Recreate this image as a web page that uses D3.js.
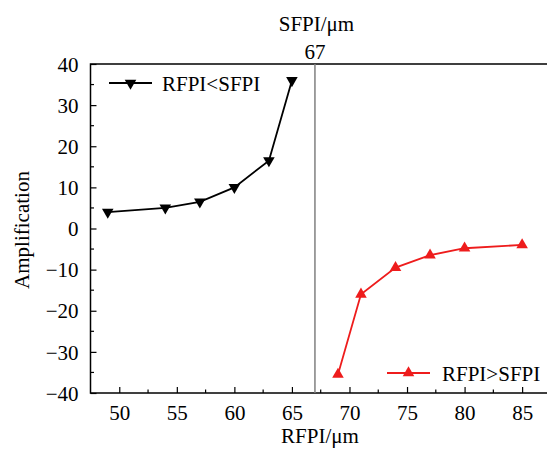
<!DOCTYPE html>
<html><head><meta charset="utf-8">
<script src="https://cdn.jsdelivr.net/npm/d3@7"></script>
<style>body{margin:0;background:#fff}svg{display:block}</style>
</head><body><svg id="c" width="547" height="455"></svg>
<script>
const lowX = [49, 54, 57, 60, 63, 65];
const lowY = [4, 5, 6.5, 10, 16.5, 36];
const highX = [69, 71, 74, 77, 80, 85];
const highY = [-35.5, -16, -9.5, -6.5, -4.8, -4];
const xTicks = [50, 55, 60, 65, 70, 75, 80, 85];
const yTicks = [-40, -30, -20, -10, 0, 10, 20, 30, 40];
const sfpi = 67;
const labels = {x: "RFPI/μm", y: "Amplification", top: "SFPI/μm", low: "RFPI<SFPI", high: "RFPI>SFPI"};

const FF = "Liberation Serif";
const FS = 21;
const svg = d3.select("#c");
const L = 90.5, T = 64, B = 393;
const x = d3.scaleLinear().domain([47.5, 87.5]).range([L, L + 40 * 11.51]);
const y = d3.scaleLinear().domain([-40, 40]).range([B, T]);
const R = x(87.5);

svg.append("rect").attr("x", L).attr("y", T).attr("width", R - L).attr("height", B - T)
  .attr("fill", "none").attr("stroke", "#000").attr("stroke-width", 1.5);

const gx = svg.append("g").attr("transform", `translate(0,${B})`)
  .call(d3.axisBottom(x).tickValues(xTicks).tickSize(-6).tickPadding(0).tickFormat(d3.format("d")));
const gy = svg.append("g").attr("transform", `translate(${L},0)`)
  .call(d3.axisLeft(y).tickValues(yTicks).tickSize(-6).tickPadding(12).tickFormat(d => d < 0 ? "\u2212" + Math.abs(d) : d));
[gx, gy].forEach(g => {
  g.attr("font-family", FF).attr("font-size", FS);
  g.select(".domain").remove();
  g.selectAll("line").attr("stroke", "#000").attr("stroke-width", 1.2);
  g.selectAll("text").attr("fill", "#000").attr("font-family", FF).attr("font-size", FS);
});
gx.selectAll("text").attr("y", 27).attr("dy", 0);
gy.selectAll("text").attr("dy", "0.34em");

const xMinor = xTicks.map(v => v + 2.5).filter(v => v > 47.5 && v < 87.5);
svg.append("g").selectAll("line").data(xMinor).join("line")
  .attr("x1", d => x(d)).attr("x2", d => x(d)).attr("y1", B).attr("y2", B - 3.5)
  .attr("stroke", "#000").attr("stroke-width", 1.2);
const yMinor = yTicks.map(v => v + 5).filter(v => v < 40);
svg.append("g").selectAll("line").data(yMinor).join("line")
  .attr("x1", L).attr("x2", L + 3.5).attr("y1", d => y(d)).attr("y2", d => y(d))
  .attr("stroke", "#000").attr("stroke-width", 1.2);

svg.append("line").attr("x1", x(sfpi)).attr("x2", x(sfpi)).attr("y1", T).attr("y2", B)
  .attr("stroke", "#808080").attr("stroke-width", 1.5);

function txt(xx, yy, t, anchor) {
  return svg.append("text").attr("x", xx).attr("y", yy).attr("text-anchor", anchor || "middle")
    .attr("font-family", FF).attr("font-size", FS).attr("fill", "#000").text(t);
}
txt(x(sfpi), 59, sfpi);
txt(x(sfpi) + 1.5, 31, labels.top);
txt(x(sfpi) + 5, 443, labels.x);
txt(0, 0, labels.y).attr("transform", "translate(29,230) rotate(-90)");

const line = d3.line().x(d => x(d[0])).y(d => y(d[1]));
const tri = d3.symbol().type(d3.symbolTriangle).size(58);

function series(xs, ys, color, down) {
  const pts = xs.map((v, i) => [v, ys[i]]);
  svg.append("path").datum(pts).attr("d", line).attr("fill", "none").attr("stroke", color).attr("stroke-width", 1.8);
  svg.append("g").selectAll("path").data(pts).join("path")
    .attr("d", tri).attr("fill", color)
    .attr("transform", d => `translate(${x(d[0])},${y(d[1])})${down ? " rotate(180)" : ""}`);
}
series(lowX, lowY, "#000", true);
series(highX, highY, "#ee1c1c", false);

function legend(x0, yy, color, down, t, tx) {
  svg.append("line").attr("x1", x0).attr("x2", x0 + 43).attr("y1", yy).attr("y2", yy).attr("stroke", color).attr("stroke-width", 1.8);
  svg.append("path").attr("d", tri).attr("fill", color).attr("transform", `translate(${x0 + 21.5},${yy})${down ? " rotate(180)" : ""}`);
  txt(tx, yy + 8, t, "start");
}
legend(109, 83, "#000", true, labels.low, 162);
legend(387, 373, "#ee1c1c", false, labels.high, 442);
</script></body></html>
